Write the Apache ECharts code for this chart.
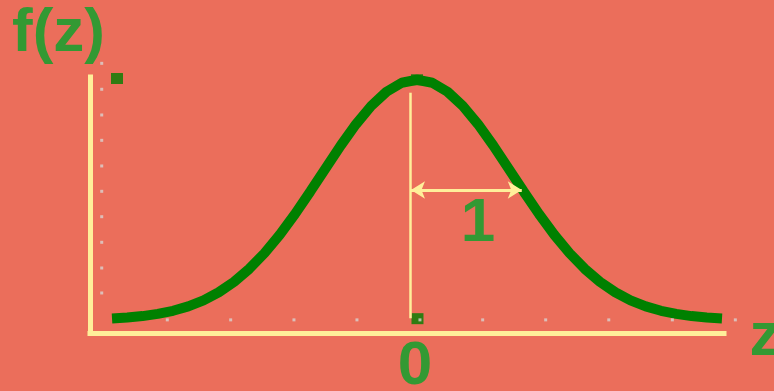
<!DOCTYPE html>
<html>
<head>
<meta charset="utf-8">
<script src="https://cdn.jsdelivr.net/npm/echarts@6/dist/echarts.min.js"></script>
<style>
  html, body { margin: 0; padding: 0; background: #eb6e5b; }
  #chart { width: 774px; height: 391px; }
</style>
</head>
<body>
<div id="chart"></div>
<script>
// Standard normal density f(z), sampled every 0.16 from -3.2 to 3.2
const zValues = [-3.2, -3.04, -2.88, -2.72, -2.56, -2.4, -2.24, -2.08, -1.92, -1.76, -1.6, -1.44, -1.28,
                 -1.12, -0.96, -0.8, -0.64, -0.48, -0.32, -0.16, 0,
                 0.16, 0.32, 0.48, 0.64, 0.8, 0.96, 1.12, 1.28, 1.44, 1.6, 1.76, 1.92,
                 2.08, 2.24, 2.4, 2.56, 2.72, 2.88, 3.04, 3.2];
const densityValues = [0.0024, 0.0039, 0.0063, 0.0099, 0.0151, 0.0224, 0.0325, 0.0459, 0.0632, 0.0848, 0.1109, 0.1415, 0.1758,
                       0.2131, 0.2516, 0.2897, 0.3251, 0.3555, 0.3790, 0.3939, 0.3989,
                       0.3939, 0.3790, 0.3555, 0.3251, 0.2897, 0.2516, 0.2131, 0.1758, 0.1415, 0.1109, 0.0848, 0.0632,
                       0.0459, 0.0325, 0.0224, 0.0151, 0.0099, 0.0063, 0.0039, 0.0024];

// Small square markers
const markerZ = [-3.148, 0, 0.005];
const markerF = [0.401, 0.3989, 0.002];

// Dotted guide points: a row along f = 0 and a column near the left edge
const dotRowZ = [-2.62, -1.955, -1.291, -0.63, 0.031, 0.689, 1.35, 2.012, 2.679, 3.34];
const dotColumnZ = -3.308;
const dotColumnF = [0.0447, 0.0862, 0.1289, 0.1714, 0.2136, 0.2557, 0.2983, 0.3404, 0.3831, 0.4262];

// Mean line and one-standard-deviation arrow
const meanLine = { z: -0.073, from: 0.0027, to: 0.3774 };
const sigmaArrow = { from: -0.063, to: 1.099, f: 0.2158 };

// Axis extents
const zRange = [-3.431, 3.221];
const fRange = [-0.0218, 0.4035];

const curveData = zValues.map((z, i) => [z, densityValues[i]]);
const markerData = markerZ.map((z, i) => [z, markerF[i]]);
const dotData = dotRowZ.map(z => [z, 0]).concat(dotColumnF.map(f => [dotColumnZ, f]));

const axisColor = '#ffef9a';
const curveColor = '#008000';
const textColor = '#339933';
const textFont = 'bold 62px "Liberation Sans", Arial, sans-serif';

const chart = echarts.init(document.getElementById('chart'), null, { renderer: 'canvas' });
chart.setOption({
  backgroundColor: '#eb6e5b',
  animation: false,
  grid: { left: 90, right: 50, top: 77, bottom: 58, outerBoundsMode: 'none' },
  xAxis: {
    type: 'value', min: zRange[0], max: zRange[1],
    axisLine: { show: true, onZero: false, lineStyle: { color: axisColor, width: 5, cap: 'square' } },
    axisTick: { show: false }, axisLabel: { show: false }, splitLine: { show: false }
  },
  yAxis: {
    type: 'value', min: fRange[0], max: fRange[1],
    axisLine: { show: true, onZero: false, lineStyle: { color: axisColor, width: 5, cap: 'square' } },
    axisTick: { show: false }, axisLabel: { show: false }, splitLine: { show: false }
  },
  series: [
    {
      name: 'f(z)', type: 'line', data: curveData, showSymbol: false, z: 3,
      lineStyle: { color: curveColor, width: 10 }, silent: true
    },
    {
      type: 'scatter', data: markerData, symbol: 'rect', symbolSize: [12, 11], z: 4,
      itemStyle: { color: curveColor }, silent: true, clip: false
    },
    {
      type: 'line', data: [], z: 5, silent: true,
      markLine: {
        silent: true, animation: false,
        symbol: ['arrow', 'arrow'], symbolSize: [13, 14],
        label: { show: false },
        lineStyle: { color: axisColor, type: 'solid', width: 3 },
        data: [
          [
            { coord: [meanLine.z, meanLine.from], symbol: 'none', lineStyle: { width: 2.5 } },
            { coord: [meanLine.z, meanLine.to], symbol: 'none' }
          ],
          [
            { coord: [sigmaArrow.from, sigmaArrow.f] },
            { coord: [sigmaArrow.to, sigmaArrow.f] }
          ]
        ]
      }
    },
    {
      type: 'scatter', data: dotData, symbol: 'rect', symbolSize: 3, z: 6,
      itemStyle: { color: '#d9d2d0' }, silent: true, clip: false
    }
  ],
  graphic: [
    { type: 'text', z: 10, style: { text: 'f(z)', x: 12, y: 34, font: textFont, fill: textColor, textAlign: 'left', textVerticalAlign: 'middle', verticalAlign: 'middle' } },
    { type: 'text', z: 10, style: { text: 'z', x: 749.5, y: 338, font: textFont, fill: textColor, textAlign: 'left', textVerticalAlign: 'middle', verticalAlign: 'middle' } },
    { type: 'text', z: 10, style: { text: '0', x: 415, y: 367, font: textFont, fill: textColor, textAlign: 'center', textVerticalAlign: 'middle', verticalAlign: 'middle' } },
    { type: 'text', z: 10, style: { text: '1', x: 478, y: 224, font: textFont, fill: textColor, textAlign: 'center', textVerticalAlign: 'middle', verticalAlign: 'middle' } }
  ]
});
</script>
</body>
</html>
